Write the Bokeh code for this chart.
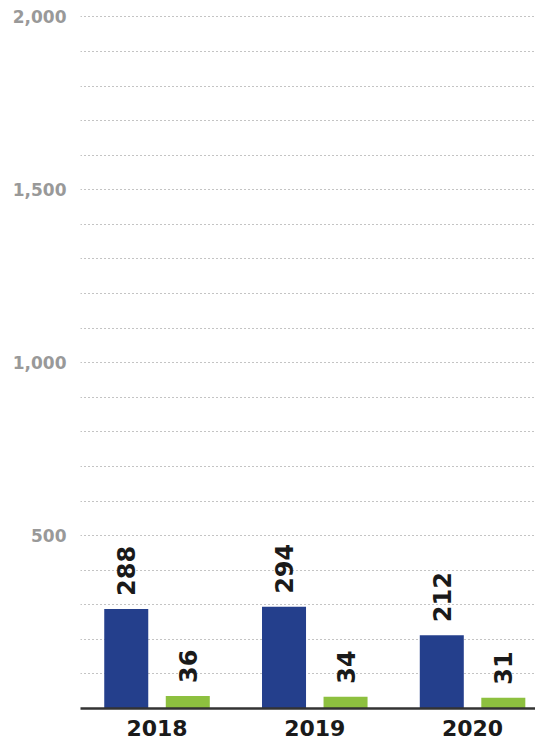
import math
from bokeh.plotting import figure
from bokeh.models import Range1d, FixedTicker, NumeralTickFormatter, ColumnDataSource
from bokeh.core.properties import value
from bokeh.embed import file_html
from bokeh.resources import INLINE

# ---- data ----
years = ["2018", "2019", "2020"]
series_a = [288, 294, 212]   # blue bars
series_b = [36, 34, 31]      # green bars
y_tick_values = [500, 1000, 1500, 2000]
grid_values = list(range(100, 2001, 100))

BLUE = "#243F8C"
GREEN = "#8DC03F"
FONT = "DejaVu Sans"

p = figure(width=535, height=741, output_backend="svg", toolbar_location=None,
           x_range=Range1d(-0.485, 2.399), y_range=Range1d(0, 2004),
           min_border_top=15, min_border_left=80, min_border_right=0,
           min_border_bottom=33)
p.outline_line_color = None
p.background_fill_color = "white"
p.border_fill_color = "white"

idx = list(range(len(years)))
off = 0.195
w = 0.279

src_a = ColumnDataSource(dict(x=[i - off for i in idx], top=series_a,
                              label=[str(v) for v in series_a]))
src_b = ColumnDataSource(dict(x=[i + off for i in idx], top=series_b,
                              label=[str(v) for v in series_b]))

p.vbar(x="x", top="top", bottom=0, width=w, source=src_a,
       fill_color=BLUE, line_color=None)
p.vbar(x="x", top="top", bottom=0, width=w, source=src_b,
       fill_color=GREEN, line_color=None)

for src in (src_a, src_b):
    p.text(x="x", y="top", text="label", source=src, angle=math.pi / 2,
           text_align="left", text_baseline="middle", y_offset=-13,
           text_font=value(FONT), text_font_style="bold",
           text_font_size="24px", text_color="#1a1a1a")

# x axis
p.xaxis.ticker = FixedTicker(ticks=idx)
p.xaxis.major_label_overrides = {i: y for i, y in zip(idx, years)}
p.xaxis.axis_line_color = "#333333"
p.xaxis.axis_line_width = 2.5
p.xaxis.major_tick_line_color = None
p.xaxis.minor_tick_line_color = None
p.xaxis.major_label_standoff = 5
p.xaxis.major_label_text_font = FONT
p.xaxis.major_label_text_font_style = "bold"
p.xaxis.major_label_text_font_size = "22px"
p.xaxis.major_label_text_color = "#1a1a1a"
p.xgrid.visible = False

# y axis
p.yaxis.ticker = FixedTicker(ticks=y_tick_values)
p.yaxis.formatter = NumeralTickFormatter(format="0,0")
p.yaxis.axis_line_color = None
p.yaxis.major_tick_line_color = None
p.yaxis.minor_tick_line_color = None
p.yaxis.major_label_standoff = 8
p.yaxis.major_label_text_font = FONT
p.yaxis.major_label_text_font_style = "bold"
p.yaxis.major_label_text_font_size = "17px"
p.yaxis.major_label_text_color = "#999999"

p.ygrid.ticker = FixedTicker(ticks=grid_values)
p.ygrid.grid_line_color = "#888888"
p.ygrid.grid_line_dash = "1 3"
p.ygrid.grid_line_width = 1

open("out.html", "w").write(file_html(p, INLINE))
